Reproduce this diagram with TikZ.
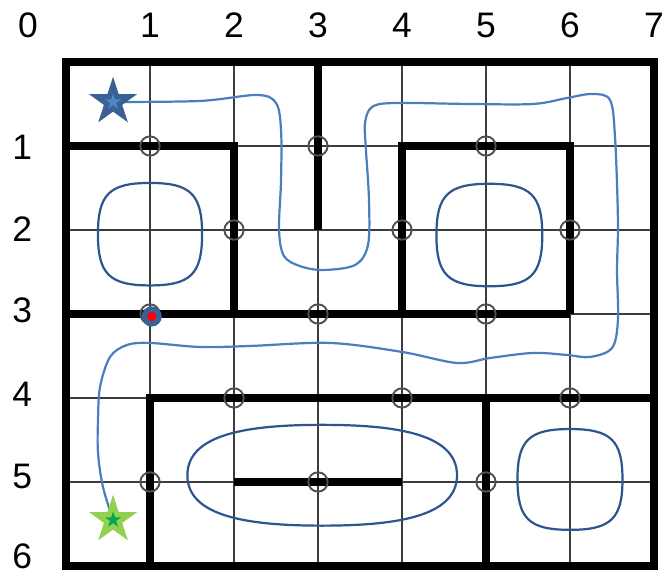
\documentclass[tikz,border=0pt]{standalone}
\usepackage{fontspec}
\setmainfont{Liberation Sans}
\usetikzlibrary{shapes.geometric}
\definecolor{gridgray}{HTML}{3C3C3C}
\definecolor{markgray}{HTML}{505050}
\definecolor{pathblue}{HTML}{4A7EBF}
\definecolor{loopblue}{HTML}{2E5590}
\definecolor{starblue}{HTML}{3A6196}
\definecolor{starinner}{HTML}{4F86C6}
\definecolor{stargreen}{HTML}{92D050}
\definecolor{starinnergreen}{HTML}{00A650}
\tikzset{
  gridline/.style={draw=gridgray, line width=0.55pt},
  wall/.style={draw=black, line width=2.9pt},
  marker/.style={draw=markgray, line width=0.65pt},
  loopline/.style={draw=loopblue, line width=0.75pt},
  route/.style={draw=pathblue, line width=0.75pt},
  lab/.style={font=\fontsize{12}{14}\selectfont, inner sep=0pt},
  bigstar/.style={star, star points=5, star point ratio=2.618, inner sep=0pt, minimum size=0.6cm},
  smallstar/.style={star, star points=5, star point ratio=2.618, inner sep=0pt, minimum size=0.2cm}
}
\begin{document}
\begin{tikzpicture}[x=1cm,y=1cm]
\useasboundingbox (-0.786,-6.06) rectangle (7.155,0.738);
% labels
\node[lab] (t0) at (-0.452,0.44) {0};
\foreach \i in {1,...,7} \node[lab] (t\i) at (\i,0.44) {\i};
\node[lab] (l1) at (-0.52,-1.01) {1};
\node[lab] (l2) at (-0.52,-1.99) {2};
\node[lab] (l3) at (-0.52,-2.96) {3};
\node[lab] (l4) at (-0.52,-3.96) {4};
\node[lab] (l5) at (-0.52,-4.93) {5};
\node[lab] (l6) at (-0.52,-5.88) {6};
% grid
\foreach \i in {1,...,6} \draw[gridline] (\i,0) -- (\i,-6);
\foreach \j in {1,...,5} \draw[gridline] (0,-\j) -- (7,-\j);
% walls
\draw[wall] (0,0) rectangle (7,-6);
\draw[wall] (0,-1) -- (2,-1) -- (2,-3);
\draw[wall] (3,0) -- (3,-2);
\draw[wall] (0,-3) -- (6,-3);
\draw[wall] (4,-3) -- (4,-1) -- (6,-1) -- (6,-3);
\draw[wall] (1,-6) -- (1,-4) -- (7,-4);
\draw[wall] (5,-4) -- (5,-6);
\draw[wall] (2,-5) -- (4,-5);
% crossing markers
\foreach \p in {(1,-1),(3,-1),(5,-1),(2,-2),(4,-2),(6,-2),(1,-3),(3,-3),(5,-3),(2,-4),(4,-4),(6,-4),(1,-5),(3,-5),(5,-5)}
  \draw[marker] \p circle (0.115);
% squircle loops
\foreach \cx/\cy/\hw/\hh in {1/-2.05/0.62/0.61, 5.04/-2.06/0.63/0.61, 6.0/-4.97/0.625/0.6}{
  \begin{scope}[shift={(\cx,\cy)}, xscale=\hw, yscale=\hh]
  \draw[loopline] (1,0) .. controls (1,0.78) and (0.78,1) .. (0,1)
    .. controls (-0.78,1) and (-1,0.78) .. (-1,0)
    .. controls (-1,-0.78) and (-0.78,-1) .. (0,-1)
    .. controls (0.78,-1) and (1,-0.78) .. (1,0) -- cycle;
  \end{scope}
}
% stadium loop
\begin{scope}[shift={(3.05,-4.92)}, xscale=1.605, yscale=0.6]
\draw[loopline] (1,0) .. controls (1,0.82) and (0.55,1) .. (0,1)
  .. controls (-0.55,1) and (-1,0.82) .. (-1,0)
  .. controls (-1,-0.82) and (-0.55,-1) .. (0,-1)
  .. controls (0.55,-1) and (1,-0.82) .. (1,0) -- cycle;
\end{scope}
% route
\draw[route] plot[smooth, tension=0.55] coordinates {
 (0.560,-0.476) (1.595,-0.464) (2.274,-0.393) (2.50,-0.488) (2.56,-0.81)
 (2.56,-1.405) (2.536,-2.0) (2.595,-2.31) (2.786,-2.43) (3.06,-2.476)
 (3.44,-2.417) (3.595,-2.18) (3.607,-1.643) (3.571,-1.048) (3.56,-0.726)
 (3.643,-0.536) (3.917,-0.488) (4.81,-0.5) (5.56,-0.5) (5.964,-0.429)
 (6.262,-0.381) (6.476,-0.452) (6.536,-0.893) (6.571,-1.881) (6.56,-2.476)
 (6.571,-3.071) (6.5,-3.405) (6.238,-3.512) (5.964,-3.488) (5.56,-3.464)
 (5.048,-3.524) (4.655,-3.583) (4.0,-3.452) (3.143,-3.345) (2.19,-3.381)
 (1.595,-3.393) (1.0,-3.345) (0.726,-3.369) (0.524,-3.512) (0.405,-3.869)
 (0.381,-4.262) (0.381,-4.655) (0.44,-5.06) (0.56,-5.452)};
% stars
\node[bigstar, fill=starblue] (startstar) at (0.56,-0.476) {};
\node[smallstar, fill=starinner] (startinner) at (0.56,-0.476) {};
\node[bigstar, fill=stargreen] (goalstar) at (0.56,-5.452) {};
\node[smallstar, fill=starinnergreen] (goalinner) at (0.56,-5.452) {};
% red dot
\fill[starblue] (1.02,-3.03) circle (0.12);
\fill[red] (1.02,-3.03) circle (0.055);
\end{tikzpicture}
\end{document}
